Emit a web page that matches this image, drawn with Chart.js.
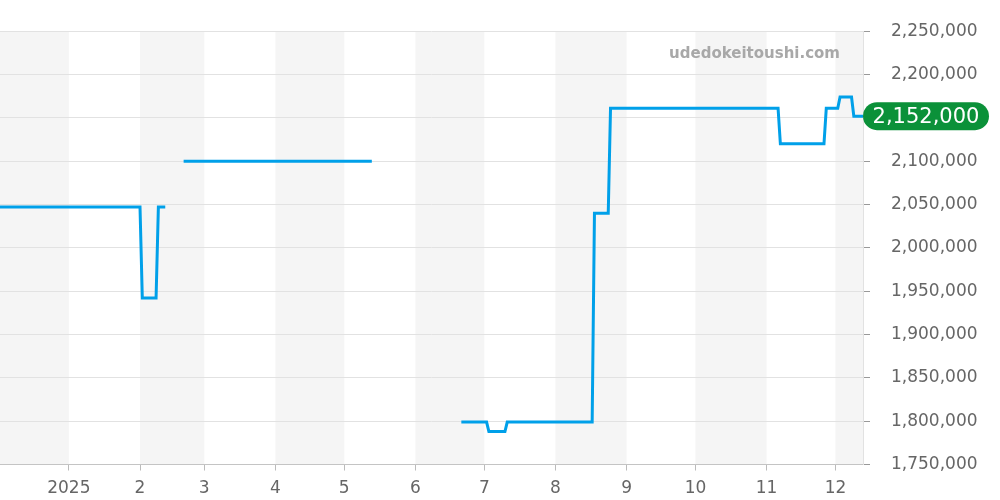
<!DOCTYPE html>
<html>
<head>
<meta charset="utf-8">
<script src="https://cdn.jsdelivr.net/npm/chart.js@4"></script>
<style>
  html, body { margin: 0; padding: 0; background: #fff; }
  canvas { display: block; }
</style>
</head>
<body>
<canvas id="priceChart" width="1000" height="500"></canvas>
<script>
// price history (null = no data)
const dates = [
  '2024-12-02', '2025-02-01', '2025-02-02', '2025-02-08', '2025-02-09', '2025-02-12', '2025-02-13',
  '2025-02-20', '2025-05-13', '2025-05-14',
  '2025-06-21', '2025-07-02', '2025-07-03', '2025-07-10', '2025-07-11', '2025-08-17',
  '2025-08-18', '2025-08-24', '2025-08-25', '2025-11-06', '2025-11-07', '2025-11-26',
  '2025-11-27', '2025-12-02', '2025-12-03', '2025-12-08', '2025-12-09', '2025-12-13'
];
const prices = [
  2047000, 2047000, 1942000, 1942000, 2047000, 2047000, null,
  2100000, 2100000, null,
  1799000, 1799000, 1788000, 1788000, 1799000, 1799000,
  2040000, 2040000, 2161000, 2161000, 2120000, 2120000,
  2161000, 2161000, 2174000, 2174000, 2152000, 2152000
];
const monthStarts = [
  '2025-01-01', '2025-02-01', '2025-03-01', '2025-04-01', '2025-05-01', '2025-06-01',
  '2025-07-01', '2025-08-01', '2025-09-01', '2025-10-01', '2025-11-01', '2025-12-01'
];
const monthLabels = ['2025', '2', '3', '4', '5', '6', '7', '8', '9', '10', '11', '12'];
// months drawn with grey background
const shadedMonths = [
  ['2024-12-01', '2025-01-01'], ['2025-02-01', '2025-03-01'], ['2025-04-01', '2025-05-01'],
  ['2025-06-01', '2025-07-01'], ['2025-08-01', '2025-09-01'], ['2025-10-01', '2025-11-01'],
  ['2025-12-01', '2026-01-01']
];
const yTicks = [1750000, 1800000, 1850000, 1900000, 1950000, 2000000,
  2050000, 2100000, 2150000, 2200000, 2250000];
const latestPrice = 2152000;
const siteName = 'udedokeitoushi.com';

const FONT = "'DejaVu Sans', sans-serif";

function toDay(s) {
  const [y, m, d] = s.split('-').map(Number);
  return (Date.UTC(y, m - 1, d) - Date.UTC(2025, 0, 1)) / 86400000;
}

const points = dates.map((d, i) => ({ x: toDay(d), y: prices[i] }));
const tickDays = monthStarts.map(toDay);

const bandsPlugin = {
  id: 'bands',
  beforeDraw(chart) {
    const { ctx, chartArea, scales } = chart;
    ctx.save();
    ctx.beginPath();
    ctx.rect(chartArea.left, chartArea.top, chartArea.right - chartArea.left, chartArea.bottom - chartArea.top);
    ctx.clip();
    ctx.fillStyle = '#f5f5f5';
    shadedMonths.forEach(([a, b]) => {
      const x1 = scales.x.getPixelForValue(toDay(a));
      const x2 = scales.x.getPixelForValue(toDay(b));
      ctx.fillRect(x1, chartArea.top, x2 - x1, chartArea.bottom - chartArea.top);
    });
    ctx.restore();
  }
};

const labelPlugin = {
  id: 'lastLabel',
  afterDraw(chart) {
    const { ctx, chartArea, scales } = chart;
    ctx.save();
    // watermark
    ctx.font = 'bold 15px ' + FONT;
    ctx.fillStyle = '#a8a8a8';
    ctx.textAlign = 'right';
    ctx.textBaseline = 'alphabetic';
    ctx.fillText(siteName, 840, 58);

    // latest price pill
    const y = scales.y.getPixelForValue(latestPrice);
    const x = chartArea.right;
    const w = 126, h = 28, r = 14;
    ctx.fillStyle = '#0b9139';
    ctx.beginPath();
    ctx.moveTo(x + r, y - h / 2);
    ctx.lineTo(x + w - r, y - h / 2);
    ctx.arc(x + w - r, y, r, -Math.PI / 2, Math.PI / 2);
    ctx.lineTo(x + r, y + h / 2);
    ctx.arc(x + r, y, r, Math.PI / 2, Math.PI * 1.5);
    ctx.closePath();
    ctx.fill();
    ctx.font = '21px ' + FONT;
    ctx.fillStyle = '#fff';
    ctx.textAlign = 'center';
    ctx.textBaseline = 'middle';
    ctx.fillText(latestPrice.toLocaleString('en-US'), x + w / 2, y + 1);
    ctx.restore();
  }
};

new Chart(document.getElementById('priceChart'), {
  type: 'line',
  data: {
    datasets: [{
      data: points,
      borderColor: '#00a0e9',
      borderWidth: 3,
      pointRadius: 0,
      tension: 0,
      spanGaps: false,
      fill: false
    }]
  },
  options: {
    responsive: false,
    animation: false,
    layout: { padding: { top: 30.5, left: 0, right: 0, bottom: 0 } },
    plugins: { legend: { display: false }, tooltip: { enabled: false } },
    scales: {
      x: {
        type: 'linear',
        min: toDay(dates[0]),
        max: toDay(dates[dates.length - 1]),
        afterBuildTicks: s => { s.ticks = tickDays.map(v => ({ value: v })); },
        afterFit: s => { s.height = 35.5; },
        grid: { drawOnChartArea: false, tickLength: 6, tickColor: '#bbb' },
        border: { color: '#c4c4c4' },
        ticks: {
          autoSkip: false,
          maxRotation: 0,
          padding: 8,
          color: '#666',
          font: { family: FONT, size: 17 },
          callback: v => monthLabels[tickDays.indexOf(v)]
        }
      },
      y: {
        position: 'right',
        min: 1750000,
        max: 2250000,
        afterBuildTicks: s => { s.ticks = yTicks.map(v => ({ value: v })); },
        afterFit: s => { s.width = 137; },
        grid: { color: '#e2e2e2', tickColor: '#999', tickLength: 7 },
        border: { color: '#e2e2e2' },
        ticks: {
          padding: 21,
          color: '#666',
          font: { family: FONT, size: 17 },
          callback: v => v.toLocaleString('en-US')
        }
      }
    }
  },
  plugins: [bandsPlugin, labelPlugin]
});
</script>
</body>
</html>
